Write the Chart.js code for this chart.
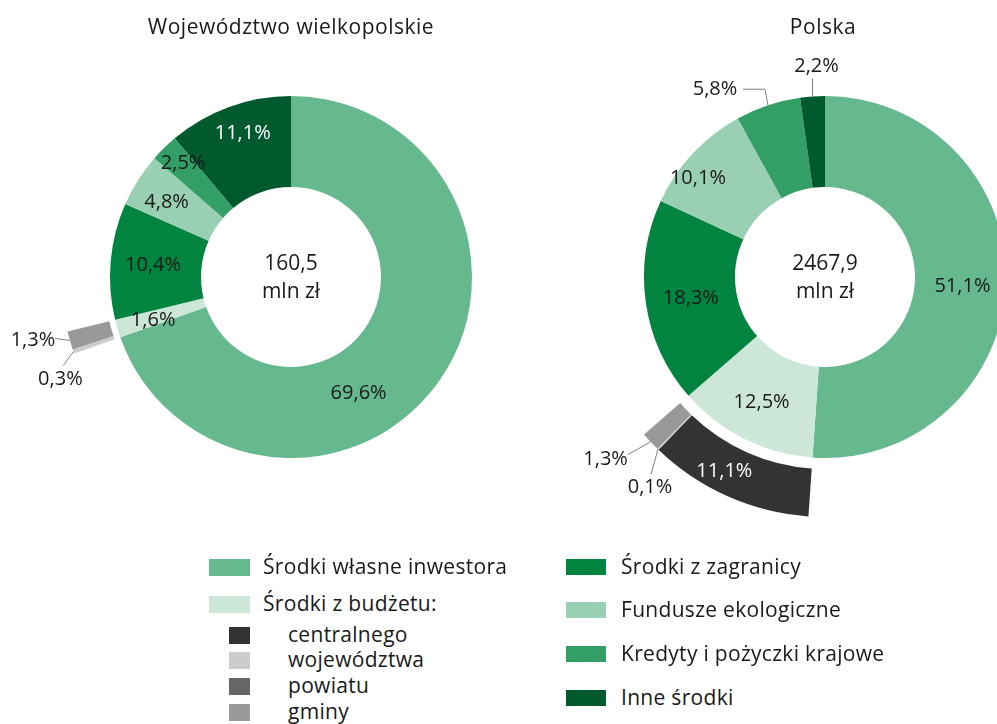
<!DOCTYPE html>
<html lang="pl">
<head>
<meta charset="utf-8">
<script src="https://cdn.jsdelivr.net/npm/chart.js@4.4.1/dist/chart.umd.min.js"></script>
<style>
html, body { margin: 0; padding: 0; width: 997px; height: 724px; overflow: hidden; background: #fff; }
body { position: relative; font-family: "Open Sans", sans-serif; color: #1a1a1a; }
canvas { position: absolute; top: 0; }
.title { position: absolute; top: 12px; width: 500px; font-size: 21px; letter-spacing: 0.5px; line-height: 28px; text-align: center; }
.sw { position: absolute; }
.lt { position: absolute; font-size: 21px; letter-spacing: 0.3px; line-height: 26px; white-space: nowrap; }
</style>
</head>
<body>
<canvas id="left" width="582" height="554" style="left:0px"></canvas>
<canvas id="right" width="582" height="554" style="left:534px"></canvas>
<div id="legend"></div>
<script>
// dane
const regions = ["Województwo wielkopolskie", "Polska"];
const totals = ["160,5", "2467,9"];
const categories = [
  "Środki własne inwestora",
  "Środki z budżetu:",
  "Środki z zagranicy",
  "Fundusze ekologiczne",
  "Kredyty i pożyczki krajowe",
  "Inne środki",
];
const budgetParts = ["centralnego", "województwa", "powiatu", "gminy"];
const wlkpValues = [69.6, 1.6, 10.4, 4.8, 2.5, 11.1];
const wlkpBudget = [0, 0.3, 0, 1.3];
const polskaValues = [51.1, 12.5, 18.3, 10.1, 5.8, 2.2];
const polskaBudget = [11.1, 0.1, 0, 1.3];

const catColors = ["#66b88f", "#cce7d8", "#00843f", "#99cfb3", "#339e66", "#005a2d"];
const budgetColors = ["#333333", "#cccccc", "#666666", "#999999"];
const darkFills = ["#005a2d", "#333333"];
const FONT = '"Open Sans", sans-serif';

// label offsets: [dx, dy] from arc centre, or {text, line} from outer edge
const leftLabels = {
  main: [[-43, 38], [-8, 5], [-3, 0], [-10, -2], [-13, -17], [-2, -16]],
  budget: [null, { text: [-13, 28], line: [[-10, 14]] }, null, { text: [-37, 0], line: [[-15, -2]] }],
};
const rightLabels = {
  main: [[2, 5], [-3, 4], [0, 2], [-28, -6],
    { text: [-53, -16], line: [[-3, -16], [-25, -16]] },
    { text: [4, -30], line: [[0, -18]] }],
  budget: [[-13, -3], { text: [-8, 38], line: [[-7, 25]] }, null, { text: [-45, 17], line: [[-23, 13]] }],
};

function fmt(v) {
  return v.toFixed(1).replace(".", ",") + "%";
}

const labelPlugin = {
  id: "labels",
  afterDatasetsDraw(chart, args, opts) {
    const ctx = chart.ctx;
    ctx.save();
    ctx.font = "20px " + FONT;
    ctx.textAlign = "center";
    ctx.textBaseline = "middle";
    const drawSet = (dsIndex, specs, offset) => {
      const meta = chart.getDatasetMeta(dsIndex);
      const ds = chart.data.datasets[dsIndex];
      specs.forEach((spec, k) => {
        const i = k + offset;
        const v = ds.data[i];
        if (!spec || !v) return;
        const a = meta.data[i].getProps(["x", "y", "startAngle", "endAngle", "innerRadius", "outerRadius"], true);
        const mid = (a.startAngle + a.endAngle) / 2;
        if (Array.isArray(spec)) {
          const r = (a.innerRadius + a.outerRadius) / 2;
          const px = a.x + Math.cos(mid) * r + spec[0];
          const py = a.y + Math.sin(mid) * r + spec[1];
          ctx.fillStyle = darkFills.includes(ds.backgroundColor[i]) ? "#ffffff" : "#1a1a1a";
          ctx.fillText(fmt(v), px, py);
        } else {
          const ax = a.x + Math.cos(mid) * a.outerRadius;
          const ay = a.y + Math.sin(mid) * a.outerRadius;
          ctx.strokeStyle = "#7f7f7f";
          ctx.lineWidth = 1;
          ctx.beginPath();
          ctx.moveTo(ax, ay);
          spec.line.forEach(p => ctx.lineTo(ax + p[0], ay + p[1]));
          ctx.stroke();
          ctx.fillStyle = "#1a1a1a";
          ctx.fillText(fmt(v), ax + spec.text[0], ay + spec.text[1]);
        }
      });
    };
    drawSet(2, opts.specs.main, 0);
    drawSet(0, opts.specs.budget, 1);
    // suma w srodku
    const c = chart.getDatasetMeta(2).data[0];
    ctx.fillStyle = "#1a1a1a";
    ctx.font = "21px " + FONT;
    ctx.fillText(opts.total, c.x, c.y - 13);
    ctx.fillText("mln zł", c.x, c.y + 15);
    ctx.restore();
  },
};

function makeChart(id, values, budget, specs, total, outerR, outerW, gapW) {
  const outerData = [values[0], ...budget, ...values.slice(2)];
  const outerColors = ["transparent", ...budgetColors, "transparent", "transparent", "transparent", "transparent"];
  const mainW = 91;
  const innerR = outerR - outerW - gapW - mainW;
  return new Chart(id, {
    type: "doughnut",
    data: {
      labels: outerData.map((_, i) => i),
      datasets: [
        { data: outerData, backgroundColor: outerColors, borderWidth: 0, weight: outerW },
        { data: [1], backgroundColor: ["transparent"], borderWidth: 0, weight: gapW },
        { data: values, backgroundColor: catColors, borderWidth: 0, weight: mainW },
      ],
    },
    options: {
      responsive: false,
      animation: false,
      devicePixelRatio: 1,
      events: [],
      radius: outerR,
      cutout: (innerR / outerR * 100) + "%",
      layout: { padding: 0 },
      plugins: {
        legend: { display: false },
        tooltip: { enabled: false },
        labels: { specs: specs, total: total },
      },
    },
    plugins: [labelPlugin],
  });
}

makeChart("left", wlkpValues, wlkpBudget, leftLabels, totals[0], 230, 43, 6);
makeChart("right", polskaValues, polskaBudget, rightLabels, totals[1], 240, 48, 11);

// tytuly i legenda
const legend = document.getElementById("legend");
function add(cls, css, text) {
  const d = document.createElement("div");
  d.className = cls;
  d.style.cssText = css;
  if (text) d.textContent = text;
  legend.appendChild(d);
}
add("title", "left:41px", regions[0]);
add("title", "left:573px", regions[1]);

const mainRows = [567, 604];
[0, 1].forEach((c, i) => {
  add("sw", `left:209px;top:${mainRows[i] - 8}px;width:41px;height:17px;background:${catColors[c]}`);
  add("lt", `left:263px;top:${mainRows[i] - 14}px`, categories[c]);
});
const subRows = [635, 660, 686, 712];
budgetParts.forEach((p, i) => {
  add("sw", `left:229px;top:${subRows[i] - 8}px;width:21px;height:17px;background:${budgetColors[i]}`);
  add("lt", `left:288px;top:${subRows[i] - 14}px`, p);
});
const rightRows = [567, 610, 654, 698];
[2, 3, 4, 5].forEach((c, i) => {
  add("sw", `left:566px;top:${rightRows[i] - 8}px;width:40px;height:16px;background:${catColors[c]}`);
  add("lt", `left:621px;top:${rightRows[i] - 14}px`, categories[c]);
});
</script>
</body>
</html>
